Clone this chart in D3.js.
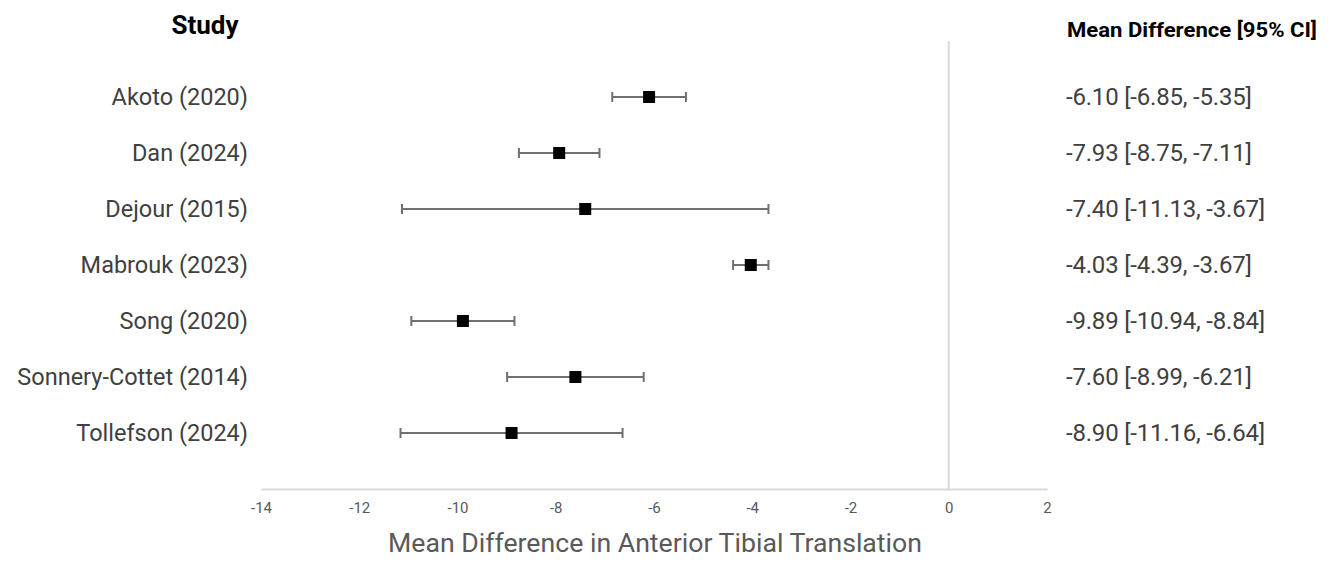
<!DOCTYPE html>
<html><head><meta charset="utf-8">
<script src="https://cdn.jsdelivr.net/npm/d3@7"></script>
<style>body{margin:0;background:#fff;}svg{display:block;}</style>
</head><body>
<svg id="c" width="1331" height="563"></svg>
<script>
const studies = ["Akoto (2020)","Dan (2024)","Dejour (2015)","Mabrouk (2023)","Song (2020)","Sonnery-Cottet (2014)","Tollefson (2024)"];
const means = [-6.10,-7.93,-7.40,-4.03,-9.89,-7.60,-8.90];
const lower = [-6.85,-8.75,-11.13,-4.39,-10.94,-8.99,-11.16];
const upper = [-5.35,-7.11,-3.67,-3.67,-8.84,-6.21,-6.64];
const ciLabels = ["-6.10 [-6.85, -5.35]","-7.93 [-8.75, -7.11]","-7.40 [-11.13, -3.67]","-4.03 [-4.39, -3.67]","-9.89 [-10.94, -8.84]","-7.60 [-8.99, -6.21]","-8.90 [-11.16, -6.64]"];
const xTicks = [-14,-12,-10,-8,-6,-4,-2,0,2];

const svg = d3.select("#c");
const x = d3.scaleLinear().domain([-14,2]).range([261,1047]);
const y = d3.scaleBand().domain(studies).range([69,461]).paddingInner(0).paddingOuter(0);
const yc = s => y(s) + y.bandwidth()/2;

// zero line
svg.append("line").attr("x1",x(0)).attr("x2",x(0)).attr("y1",41).attr("y2",489)
  .attr("stroke","#d9d9d9").attr("stroke-width",2);

// axis
const ax = svg.append("g").attr("transform","translate(0,489)")
  .call(d3.axisBottom(x).tickValues(xTicks).tickSize(0).tickPadding(13).tickFormat(d => String(d)));
ax.select(".domain").attr("stroke","#d9d9d9").attr("stroke-width",2);
ax.selectAll("text").attr("fill","#595959").style("font-family","Roboto,sans-serif").style("font-size","15px");

// axis title
svg.append("text").attr("x",655).attr("y",552).attr("text-anchor","middle")
  .attr("fill","#595959").style("font-family","Roboto,sans-serif").style("font-size","26px")
  .attr("textLength",534).attr("lengthAdjust","spacingAndGlyphs")
  .text("Mean Difference in Anterior Tibial Translation");

// CI lines
const g = svg.append("g");
studies.forEach((s,i)=>{
  const cy = yc(s);
  g.append("line").attr("x1",x(lower[i])).attr("x2",x(upper[i])).attr("y1",cy).attr("y2",cy).attr("stroke","#707070").attr("stroke-width",2);
  [lower[i],upper[i]].forEach(v=>{
    g.append("line").attr("x1",x(v)).attr("x2",x(v)).attr("y1",cy-5).attr("y2",cy+5).attr("stroke","#707070").attr("stroke-width",2);
  });
  g.append("rect").attr("x",x(means[i])-6).attr("y",cy-6).attr("width",12).attr("height",12).attr("fill","#000");
  svg.append("text").attr("x",248).attr("y",cy).attr("dy","0.35em").attr("text-anchor","end")
    .attr("fill","#404040").style("font-family","Roboto,'Noto Sans',sans-serif").style("font-size","23.5px").text(s);
  svg.append("text").attr("x",1066).attr("y",cy).attr("dy","0.35em").attr("text-anchor","start")
    .attr("fill","#404040").style("font-family","Roboto,'Noto Sans',sans-serif").style("font-size","24px").style("letter-spacing","-0.2px").text(ciLabels[i]);
});

// headers
svg.append("text").attr("x",205).attr("y",34).attr("text-anchor","middle")
  .attr("fill","#000").style("font-family","Roboto,sans-serif").style("font-weight","bold").style("font-size","26px").text("Study");
svg.append("text").attr("x",1067).attr("y",37).attr("text-anchor","start")
  .attr("fill","#000").style("font-family","Roboto,sans-serif").style("font-weight","bold").style("font-size","20px")
  .attr("textLength",250).attr("lengthAdjust","spacingAndGlyphs").text("Mean Difference [95% CI]");
</script>
</body></html>
